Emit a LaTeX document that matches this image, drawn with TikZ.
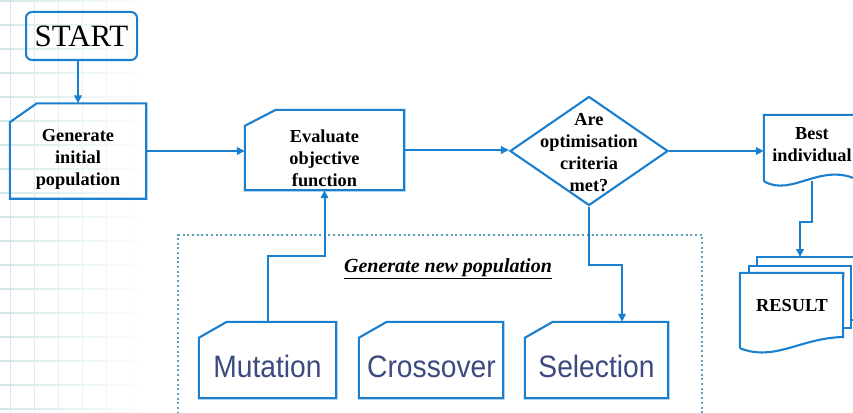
\documentclass[tikz,border=0pt]{standalone}
\usepackage{fontspec}
\setmainfont{Liberation Serif}
\newfontfamily\narrowsans[FakeStretch=0.91]{Liberation Sans}
\usetikzlibrary{arrows.meta,shapes.geometric,calc}

\definecolor{flow}{HTML}{1A7FCF}
\definecolor{gridc}{HTML}{D3E8EA}
\definecolor{dotc}{HTML}{5E9FB6}
\definecolor{optext}{HTML}{3C4A80}

\tikzset{
  x=1pt, y=-1pt,
  flowline/.style={draw=flow, line width=2.1pt},
  conn/.style={draw=flow, line width=2pt, -{Triangle[length=8pt,width=7.5pt]}},
  area/.style={rectangle, inner sep=0pt},
  boldtext/.style={font=\fontsize{18.3}{22}\selectfont\bfseries, align=center, text=black, inner sep=0pt},
  opname/.style={font=\narrowsans\fontsize{31}{36}\selectfont, text=optext, anchor=base, inner sep=0pt},
}

% outline of a box whose top-left corner is cut off
\newcommand\cutoutline[3]{%
  \draw[flowline] ([yshift=-#3]#1.north west) -- ([xshift=#2]#1.north west)
    -- (#1.north east) -- (#1.south east) -- (#1.south west) -- cycle;}

% bold text with a heavy underline
\newcommand\ulbold[1]{\leavevmode\vtop{\hbox{#1}\kern1.4pt\hrule height1.6pt}}

\begin{document}
\begin{tikzpicture}
\useasboundingbox (0,0) rectangle (853,412);
\fill[white] (0,0) rectangle (853,412);

% faint squared paper on the left
\foreach \k/\o in {0/1,1/.85,2/.65,3/.45,4/.28,5/.12}
  \draw[gridc, line width=1pt, opacity=\o] ({10+24*\k},0) -- ({10+24*\k},412);
\foreach \k in {0,...,17}
  \shade[left color=gridc, right color=white] (0,{24*\k+0.5}) rectangle (150,{24*\k+1.5});

% frame around the operators
\node[area, draw=dotc, line width=2pt, dash pattern=on 2pt off 2.7pt,
      minimum width=524pt, minimum height=190pt, anchor=north west] (newpop) at (177,234) {};
\node[font=\fontsize{20}{24}\selectfont\bfseries\itshape, anchor=base, inner sep=0pt]
  (newpop-t) at (448,272) {\ulbold{Generate new population}};

% start
\node[area, draw=flow, line width=2pt, rounded corners=6pt,
      minimum width=111pt, minimum height=48pt, font=\fontsize{31}{36}\selectfont]
  (start) at (81.5,36) {START};

% process boxes
\node[area, minimum width=136pt, minimum height=95pt] (gen) at (78,151) {};
\cutoutline{gen}{27pt}{19pt}
\node[boldtext] (gen-t) at (78,159) {Generate\\initial\\population};

\node[area, minimum width=159pt, minimum height=80pt] (eval) at (324.5,150) {};
\cutoutline{eval}{31pt}{16pt}
\node[boldtext] (eval-t) at (324.5,158) {Evaluate\\objective\\function};

% decision
\node[diamond, draw=flow, line width=2.1pt, minimum width=158pt, minimum height=109pt,
      inner sep=0pt] (dia) at (589,151) {};
\node[boldtext] (dia-t) at (589,153) {Are\\optimisation\\criteria\\met?};

% best individual (document)
\node[area, minimum width=96pt, minimum height=66pt] (best) at (812,148) {};
\draw[flowline] (best.south west) -- (best.north west) -- (best.north east) -- (best.south east)
  .. controls (822,160) and (792,198) .. (best.south west);
\node[boldtext] (best-t) at (812,145) {Best\\individual};

% result (stack of documents)
\node[area, minimum width=103pt, minimum height=75pt] (res) at (791.5,310.5) {};
\draw[flowline] (757,266) -- (757,257) -- (862,257) -- (862,320) -- (851,320);
\draw[flowline] (749,273) -- (749,266) -- (851,266) -- (851,328) -- (843,328);
\fill[white] (res.south west) -- (res.north west) -- (res.north east) -- (843,337)
  .. controls (800,338) and (775,362) .. (res.south west);
\draw[flowline] (res.south west) -- (res.north west) -- (res.north east) -- (843,337)
  .. controls (800,338) and (775,362) .. (res.south west);
\node[boldtext] (res-t) at (792,306) {RESULT};
\coordinate (resin) at (800,257);

% genetic operators
\node[area, minimum width=137pt, minimum height=76pt] (mut) at (267.5,360) {};
\cutoutline{mut}{28pt}{16pt}
\node[opname] (mut-t) at (267.5,377) {Mutation};

\node[area, minimum width=144pt, minimum height=76pt] (cross) at (431,360) {};
\cutoutline{cross}{28pt}{16pt}
\node[opname] (cross-t) at (431.5,377) {Crossover};

\node[area, minimum width=143pt, minimum height=76pt] (sel) at (596.5,360) {};
\cutoutline{sel}{28pt}{16pt}
\node[opname] (sel-t) at (596.5,377) {Selection};

% connectors
\draw[conn] (start.south -| gen.north) -- (gen.north);
\draw[conn] (gen.east) -- (gen.east -| eval.west);
\draw[conn] (eval.east) -- (eval.east -| dia.west);
\draw[conn] (dia.east) -- (dia.east -| best.west);
\draw[conn] (best.south) -- ++(0,41) -| (resin);
\draw[conn] (mut.north) -- ++(0,-66) -| (eval.south);
\draw[conn] (dia.south) -- ++(0,58) -| ([xshift=25.5pt]sel.north);
\end{tikzpicture}
\end{document}
